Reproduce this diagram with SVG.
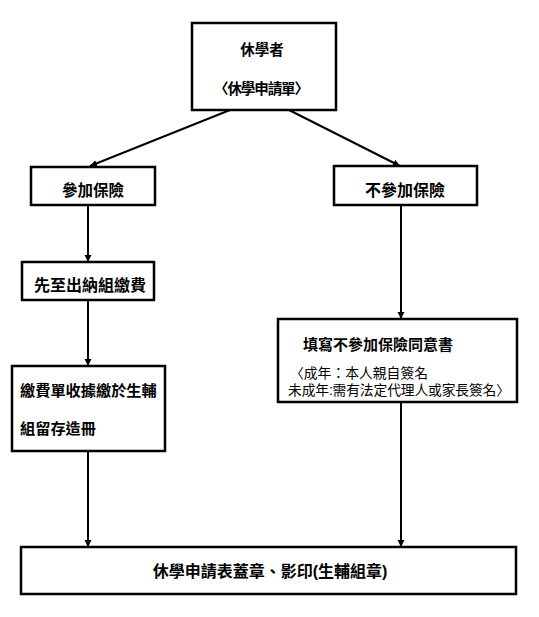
<svg xmlns="http://www.w3.org/2000/svg" width="539" height="617" viewBox="0 0 539 617">
<style>
.box{fill:#fff;stroke:#000;stroke-width:2.5}
.t{font-family:"Liberation Sans","Noto Sans CJK TC",sans-serif;font-weight:bold;font-size:15px;fill:#000}
.s{font-family:"Liberation Sans","Noto Sans CJK TC",sans-serif;font-size:13.8px;fill:#000}
.c{stroke:#000;stroke-width:2;fill:none;marker-end:url(#ah)}
</style>
<defs>
<marker id="ah" markerUnits="userSpaceOnUse" markerWidth="8" markerHeight="8" refX="7" refY="4" orient="auto">
<path d="M0,0.5 L7,4 L0,7.5 Z" fill="#000"/>
</marker>
</defs>
<rect width="539" height="617" fill="#fff"/>
<g id="connectors">
<line class="c" x1="230" y1="110" x2="90" y2="166"/>
<line class="c" x1="289" y1="110" x2="400" y2="166"/>
<line class="c" x1="88" y1="205" x2="88" y2="262"/>
<line class="c" x1="88" y1="300" x2="88" y2="366"/>
<line class="c" x1="88" y1="451" x2="88" y2="547"/>
<line class="c" x1="401" y1="205" x2="401" y2="319"/>
<line class="c" x1="401" y1="402" x2="401" y2="547"/>
</g>
<g id="n1">
<rect class="box" x="192" y="23" width="144" height="87"/>
<text class="t" x="262" y="55" text-anchor="middle" style="font-size:14.5px">休學者</text>
<text class="t" x="214" y="94" textLength="95" lengthAdjust="spacing" style="font-size:14.5px">〈休學申請單〉</text>
</g>
<g id="n2">
<rect class="box" x="31" y="167" width="124" height="38"/>
<text class="t" x="93" y="196" text-anchor="middle" style="font-size:15.5px">參加保險</text>
</g>
<g id="n3">
<rect class="box" x="334" y="166" width="143" height="39"/>
<text class="t" x="405" y="196" text-anchor="middle" style="font-size:16px">不參加保險</text>
</g>
<g id="n4">
<rect class="box" x="22" y="262" width="132" height="38"/>
<text class="t" x="34" y="291" style="font-size:16px">先至出納組繳費</text>
</g>
<g id="n5">
<rect class="box" x="12" y="366" width="153" height="85"/>
<text class="t" x="20" y="396" style="font-size:15.2px">繳費單收據繳於生輔</text>
<text class="t" x="20" y="434" style="font-size:15.2px">組留存造冊</text>
</g>
<g id="n6">
<rect class="box" x="278" y="319" width="239" height="83"/>
<text class="t" x="303" y="350">填寫不參加保險同意書</text>
<text class="s" x="290" y="378" textLength="138" lengthAdjust="spacing">〈成年：本人親自簽名</text>
<text class="s" x="288" y="395" textLength="222" lengthAdjust="spacing">未成年:需有法定代理人或家長簽名〉</text>
</g>
<g id="n7">
<rect class="box" x="21" y="547" width="495" height="47"/>
<text class="t" x="270" y="577" text-anchor="middle" style="font-size:16px">休學申請表蓋章、影印(生輔組章)</text>
</g>
</svg>
